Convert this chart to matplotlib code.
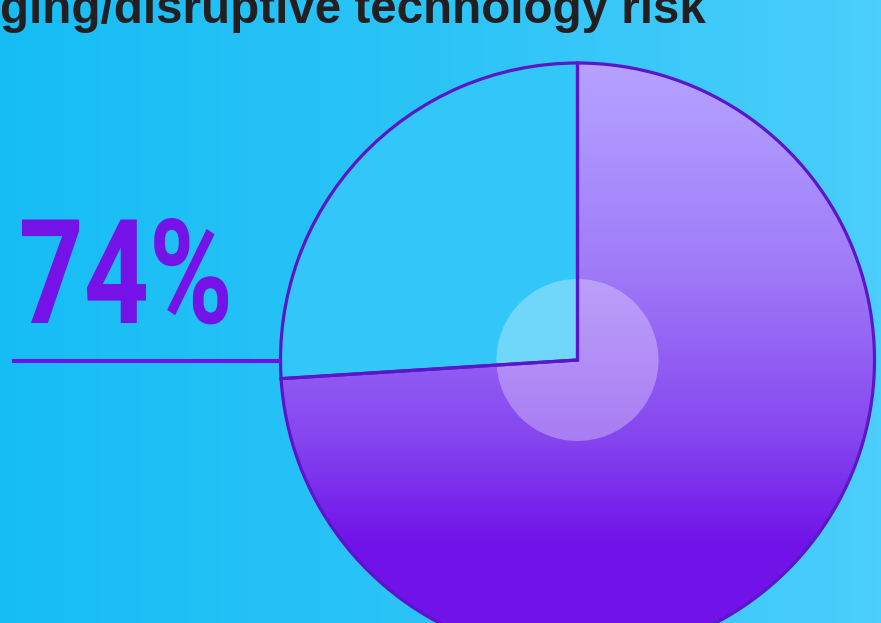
import numpy as np
import matplotlib
matplotlib.use("Agg")
import matplotlib.pyplot as plt
from matplotlib.colors import LinearSegmentedColormap
from matplotlib.patches import Circle
from matplotlib.textpath import TextPath
from matplotlib.font_manager import FontProperties
from matplotlib.patheffects import AbstractPathEffect
from matplotlib.transforms import Affine2D

# ---- data ----
title = "Emerging/disruptive technology risk"
visible_title = "ging/disruptive technology risk"
labels = ["Yes", "No"]
values = [74, 26]
headline = "74%"

W, H = 881, 623
fig = plt.figure(figsize=(W / 100, H / 100), dpi=100)
ax = fig.add_axes([0, 0, 1, 1])

# background gradient
bg = LinearSegmentedColormap.from_list("bg", ["#16BDF5", "#2CC4F7", "#4BCEFB"])
ax.imshow(np.linspace(0, 1, 256).reshape(1, -1), cmap=bg, aspect="auto",
          extent=(0, W, 0, H), zorder=0)

cx, cy, R = 577.5, H - 360, 297
wedges, _ = ax.pie(values, center=(cx, cy), radius=R, startangle=90,
                   counterclock=False, colors=["none", "#33C6F8"],
                   wedgeprops=dict(edgecolor="none", linewidth=0))
for w in wedges:
    w.set_zorder(1)

# gradient fill for main wedge (light at top, dark at bottom)
pg = LinearSegmentedColormap.from_list(
    "pg", [(0.0, "#B6A0FF"), (0.1, "#B09AFF"), (0.42, "#A07CF8"),
           (0.78, "#8545EF"), (1.0, "#7012E8")])
top, bot = H - 63, H - 545
grad = np.linspace(0, 1, 256).reshape(-1, 1)
im = ax.imshow(grad, cmap=pg, aspect="auto", extent=(cx - R, cx + R, bot, top),
               origin="upper", zorder=2)
im.set_clip_path(wedges[0])
ax.fill_between([cx - R, cx + R], [0, 0], [bot + 1, bot + 1], color="#7012E8",
                zorder=2, clip_path=wedges[0], linewidth=0)

# inner translucent circle
ax.add_patch(Circle((cx, cy), 81, facecolor="white", alpha=0.3, edgecolor="none",
                    zorder=3))

# outlines on top
wedges2, _ = ax.pie(values, center=(cx, cy), radius=R, startangle=90,
                    counterclock=False, colors=["none", "none"],
                    wedgeprops=dict(edgecolor="#5A16C8", linewidth=2.3))
for w in wedges2:
    w.set_zorder(4)
    w.set_facecolor("none")

# connector line
ax.plot([12, cx - R], [H - 361, H - 361], color="#7010EE", linewidth=2.9,
        solid_capstyle="butt", zorder=4)


class HScale(AbstractPathEffect):
    def __init__(self, sx, x0):
        super().__init__()
        self.sx, self.x0 = sx, x0

    def draw_path(self, renderer, gc, tpath, affine, rgbFace=None):
        aff = affine + Affine2D().translate(-self.x0, 0).scale(self.sx, 1).translate(self.x0, 0)
        renderer.draw_path(gc, tpath, aff, rgbFace)


# headline "74%"
fp = FontProperties(family="Roboto", weight="bold")
ref = TextPath((0, 0), "7", size=100, prop=fp).get_extents()
fs_px = 0.9 * 115 / (ref.height / 100)
ext = TextPath((0, 0), headline, size=fs_px, prop=fp).get_extents()
sx = 206 / ext.width
x_text = 22 - sx * ext.x0
ax.text(x_text, H - 323, headline, fontproperties=fp, fontsize=fs_px * 72 / 100,
        color="#7412E8", ha="left", va="baseline", zorder=5,
        path_effects=[HScale(sx, x_text)])

# title
tp = FontProperties(family="Liberation Sans", weight="bold")
sub = TextPath((0, 0), visible_title, size=100, prop=tp).get_extents()
t_px = 100 * 703 / sub.width
full = TextPath((0, 0), title, size=t_px, prop=tp).get_extents()
ax.text(705 - full.x1, H - 23, title, fontproperties=tp, fontsize=t_px * 72 / 100,
        color="#231F20", ha="left", va="baseline", zorder=5)

ax.set_xlim(0, W)
ax.set_ylim(0, H)
ax.set_aspect("auto")
ax.axis("off")
fig.savefig("out.png", dpi=100)
